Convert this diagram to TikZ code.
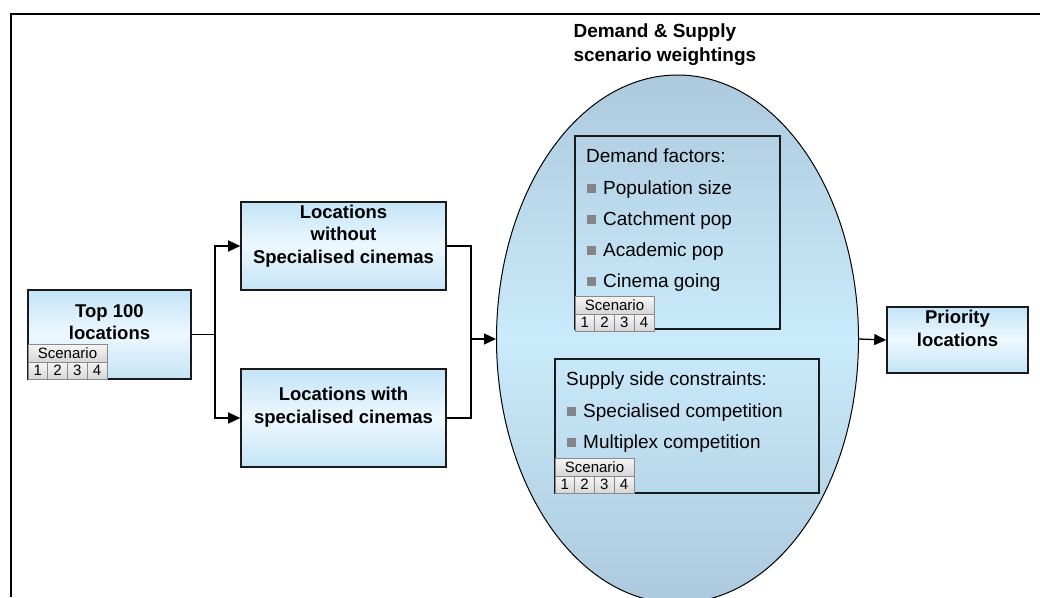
\documentclass[tikz,border=0pt]{standalone}
\usepackage{fontspec}
\setmainfont{Liberation Sans}
\usetikzlibrary{arrows.meta,shapes.geometric}

\begin{document}
\begin{tikzpicture}[x=1pt, y=-1pt,
  box/.style={draw=boxline, line width=1.6pt, inner sep=0pt,
    top color=boxtop, bottom color=boxtop, middle color=boxmid},
  frame/.style={draw=boxline, line width=1.5pt, inner sep=0pt},
  title/.style={align=center, font=\bfseries\fontsize{18.5}{22.5}\selectfont},
  item/.style={inner sep=0pt, font=\fontsize{19}{22}\selectfont},
  scencell/.style={draw=cellline, line width=0.9pt, inner sep=0pt,
    top color=celltop, bottom color=cellbot, font=\fontsize{15}{17}\selectfont},
  conn/.style={line width=1.3pt},
  arrow/.style={conn, -{Triangle[length=12pt, width=11pt]}}
]

  % --- Farben ---
  \definecolor{boxline}{HTML}{1A1A1A}
  \definecolor{boxtop}{HTML}{C3E4F7}
  \definecolor{boxmid}{HTML}{EDF8FE}
  \definecolor{elltop}{HTML}{ADC9DD}
  \definecolor{ellmid}{HTML}{CAEBFC}
  \definecolor{celltop}{HTML}{F6F6F6}
  \definecolor{cellbot}{HTML}{D6D6D6}
  \definecolor{cellline}{HTML}{8A8A8A}
  \definecolor{bulletgrey}{HTML}{858585}

  % --- Hilfsmakros ---
  % \scenariotab{obere linke Ecke}
  \newcommand{\scenariotab}[1]{%
    \begin{scope}[shift={(#1)}]
      \node[scencell, minimum width=79pt, minimum height=18pt] at (39.5,9) {Scenario};
      \foreach \n in {1,...,4}
        \node[scencell, minimum width=19.75pt, minimum height=17pt]
          at ({(\n-0.5)*19.75},26.5) {\n};
    \end{scope}
  }
  \newcommand{\bullitem}{{\color{bulletgrey}\rule[1.5pt]{9pt}{8.5pt}}\hspace{7pt}}

  \useasboundingbox (0,0) rectangle (1040,597);
  \clip (0,0) rectangle (1040,597);

  % --- Rahmen ---
  \draw[line width=2.2pt] (11,597) -- (11,14) -- (1040,14);

  % --- Ellipse mit Gewichtungen ---
  \node[ellipse, draw=black, line width=1pt, inner sep=0pt,
    top color=elltop, bottom color=elltop, middle color=ellmid,
    minimum width=362pt, minimum height=528pt] (weigh) at (677.5,339) {};
  \node[title, align=left, anchor=west, font=\bfseries\fontsize{19}{24}\selectfont]
    (weightxt) at (570,45) {Demand \& Supply\\scenario weightings};

  % Demand factors
  \node[frame, minimum width=205pt, minimum height=193pt] (demand) at (677.5,232.5) {};
  \node[item, anchor=base west] (demtxt) at (586,162) {Demand factors:};
  \node[item, anchor=base west] (pop) at (587,194) {\bullitem Population size};
  \node[item, anchor=base west] (catch) at (587,225) {\bullitem Catchment pop};
  \node[item, anchor=base west] (acad) at (587,256) {\bullitem Academic pop};
  \node[item, anchor=base west] (going) at (587,287) {\bullitem Cinema going};
  \scenariotab{575,296}

  % Supply side constraints
  \node[frame, minimum width=264pt, minimum height=134pt] (supply) at (687,426) {};
  \node[item, anchor=base west] (suptxt) at (566,385) {Supply side constraints:};
  \node[item, anchor=base west] (speccomp) at (567,417) {\bullitem Specialised competition};
  \node[item, anchor=base west] (multi) at (567,448) {\bullitem Multiplex competition};
  \scenariotab{555,458}

  % --- Kaesten ---
  \node[box, minimum width=163pt, minimum height=89pt] (top) at (109.5,334.5) {};
  \node[title] (toptxt) at (109.5,322) {Top 100\\locations};
  \scenariotab{28,344}

  \node[box, minimum width=205pt, minimum height=88pt] (nospec) at (343.5,246) {};
  \node[title] (nospectxt) at (343.5,236) {Locations\\without\\Specialised cinemas};

  \node[box, minimum width=205pt, minimum height=98pt] (spec) at (343.5,418) {};
  \node[title] (spectxt) at (343.5,407) {Locations with\\specialised cinemas};

  \node[box, minimum width=141pt, minimum height=66pt] (prio) at (957.5,340) {};
  \node[title] (priotxt) at (957.5,328.5) {Priority\\locations};

  % --- Verbindungen ---
  \coordinate (split) at (215,334.5);
  \coordinate (join) at (471,339);
  \draw[conn] (top.east) -- (split);
  \draw[arrow] (split) |- (nospec.west);
  \draw[arrow] (split) |- (spec.west);
  \draw[conn] (nospec.east) -| (join);
  \draw[conn] (spec.east) -| (join);
  \draw[arrow] (join) -- (weigh.west);
  \draw[arrow] (weigh.east) -- (prio.west);

\end{tikzpicture}
\end{document}
